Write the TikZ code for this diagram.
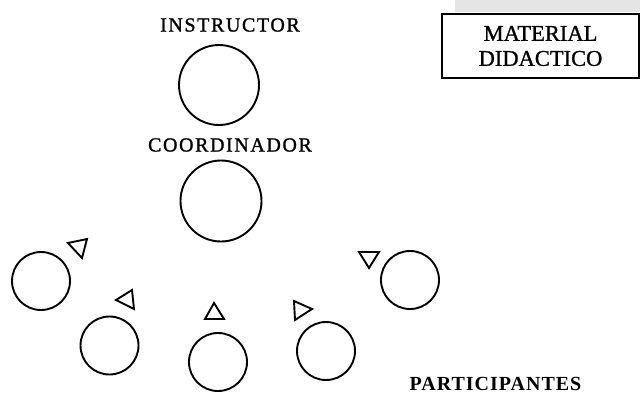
\documentclass[tikz,border=0pt]{standalone}
\usepackage{fontspec}
\setmainfont{Liberation Serif}
\newfontfamily\roleface[LetterSpace=8,FakeBold=1.2]{Liberation Serif}
\newfontfamily\boxface[FakeBold=1.0]{Liberation Serif}
\newfontfamily\groupface[LetterSpace=5]{Liberation Serif}
\begin{document}
\begin{tikzpicture}[x=1pt,y=-1pt,
  person/.style={draw,circle,line width=1.9pt,inner sep=0pt,minimum size=#1},
  person/.default=58pt,
  role/.style={font=\roleface\fontsize{20}{22}\selectfont,inner sep=0pt},
  tri/.style={draw,line width=1.9pt,line join=miter},
  matbox/.style={draw,line width=1.7pt,inner sep=0pt,minimum width=197pt,minimum height=64pt,align=center,
    font=\boxface\fontsize{22.5}{25}\selectfont}]
  % page frame
  \useasboundingbox (0,0) rectangle (640,394);
  \fill[white] (0,0) rectangle (640,394);

  % grainy shading above the material box
  \fill[gray!20] (455,0) rectangle (640,12);

  % roles
  \node[role] (tinstr) at (230,25) {INSTRUCTOR};
  \node[person=80pt] (instr) at (219,85) {};
  \node[role] (tcoord) at (230,145) {COORDINADOR};
  \node[person=81pt] (coord) at (221,201) {};

  % material box
  \node[matbox] (mat) at (540.5,46) {MATERIAL\\DIDACTICO};

  % participants
  \node[person] (p1) at (41,281) {};
  \node[person] (p2) at (109.5,345.5) {};
  \node[person] (p3) at (218,362) {};
  \node[person] (p4) at (326,351) {};
  \node[person] (p5) at (410,280) {};

  % direction markers
  \draw[tri] (68,243) -- (87,239) -- (82,258) -- cycle;
  \draw[tri] (116,300) -- (132,290) -- (134,309) -- cycle;
  \draw[tri] (205,319) -- (214,303) -- (224,319) -- cycle;
  \draw[tri] (294,301) -- (312,309) -- (295,320) -- cycle;
  \draw[tri] (359,252) -- (379,252) -- (369,268) -- cycle;

  \node[inner sep=0pt,font=\groupface\bfseries\fontsize{20}{22}\selectfont] (tpart) at (495.5,384) {PARTICIPANTES};
\end{tikzpicture}
\end{document}
